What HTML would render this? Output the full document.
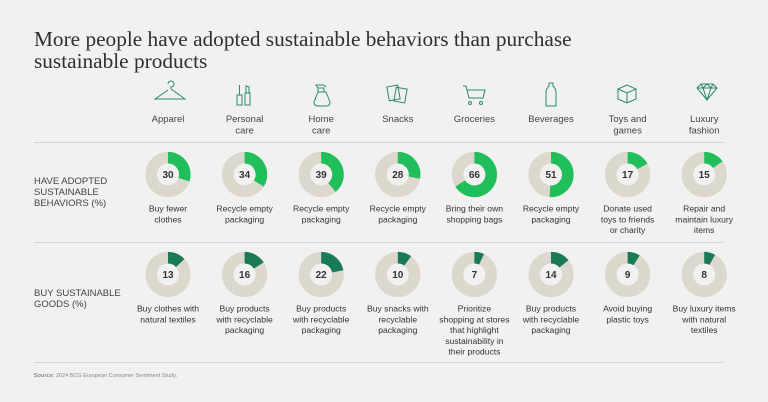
<!DOCTYPE html>
<html><head><meta charset="utf-8">
<style>
html,body{margin:0;padding:0;background:#f2f1f1;}
body{width:768px;height:402px;overflow:hidden;font-family:"Liberation Sans",sans-serif;}
svg{display:block}
</style></head>
<body>
<svg id="chart" width="768" height="402" viewBox="0 0 768 402" xmlns="http://www.w3.org/2000/svg">
<rect width="768" height="402" fill="#f2f1f1"/>
<text x="34" y="46" font-family="Liberation Serif, serif" font-size="21.3" fill="#2f2f2f">More people have adopted sustainable behaviors than purchase</text>
<text x="34" y="68" font-family="Liberation Serif, serif" font-size="21.3" fill="#2f2f2f">sustainable products</text>
<line x1="34" y1="142.5" x2="724" y2="142.5" stroke="#d6d4d4" stroke-width="1"/>
<line x1="34" y1="242.5" x2="724" y2="242.5" stroke="#d6d4d4" stroke-width="1"/>
<line x1="34" y1="362.5" x2="724" y2="362.5" stroke="#d6d4d4" stroke-width="1"/>
<g font-size="9.5" fill="#444">
<text x="34" y="184">HAVE ADOPTED</text><text x="34" y="195">SUSTAINABLE</text><text x="34" y="206">BEHAVIORS (%)</text></g>
<g font-size="9.5" fill="#444">
<text x="34" y="296">BUY SUSTAINABLE</text><text x="34" y="307">GOODS (%)</text></g>
<text x="34" y="377" font-size="5.5" fill="#888"><tspan font-weight="bold">Source:</tspan> 2024 BCG European Consumer Sentiment Study.</text>
<g id="icons" stroke="#2a8a66" stroke-width="1" fill="none">
<path d="M168 84 a3 3 0 1 1 3 3 v2 l14 10 h-30 l13 -9"/>
<g><rect x="237" y="95" width="5" height="10"/><rect x="245" y="93" width="5" height="12"/><line x1="239.5" y1="85" x2="239.5" y2="95"/><path d="M246 93 v-7 l3 1 v6"/></g>
<g><path d="M318 92 l-4 10 q0 4 4 4 h8 q4 0 4 -4 l-4 -10 z"/><path d="M318 92 v-4 h6 v4 M318 88 l-2 -3 h8 l2 2"/></g>
<g><rect x="388" y="86" width="11" height="14" transform="rotate(-10 393 93)"/><rect x="395" y="88" width="11" height="14" transform="rotate(10 400 95)"/></g>
<g><path d="M463 86 h3 l3 12 h14 l2 -8 h-18"/><circle cx="470" cy="103" r="1.5"/><circle cx="481" cy="103" r="1.5"/></g>
<g><path d="M549 83 h4 v3 q3 3 3 6 v14 h-10 v-14 q0 -3 3 -6 z"/></g>
<g><path d="M618 89 l9 -4 l9 4 v10 l-9 4 l-9 -4 z M618 89 l9 4 l9 -4 M627 93 v10"/></g>
<g><path d="M697 88 l4 -4 h12 l4 4 l-10 12 z M697 88 h20 M703 88 l4 12 l4 -12 M701 84 l2 4 l4 -4 l4 4 l2 -4"/></g>
</g>
<g id="marks"></g>
</svg>
<script>
const categories = [["Apparel"],["Personal","care"],["Home","care"],["Snacks"],["Groceries"],["Beverages"],["Toys and","games"],["Luxury","fashion"]];
const adoptedValues = [30,34,39,28,66,51,17,15];
const buyValues = [13,16,22,10,7,14,9,8];
const adoptedLabels = [["Buy fewer","clothes"],["Recycle empty","packaging"],["Recycle empty","packaging"],["Recycle empty","packaging"],["Bring their own","shopping bags"],["Recycle empty","packaging"],["Donate used","toys to friends","or charity"],["Repair and","maintain luxury","items"]];
const buyLabels = [["Buy clothes with","natural textiles"],["Buy products","with recyclable","packaging"],["Buy products","with recyclable","packaging"],["Buy snacks with","recyclable","packaging"],["Prioritize","shopping at stores","that highlight","sustainability in","their products"],["Buy products","with recyclable","packaging"],["Avoid buying","plastic toys"],["Buy luxury items","with natural","textiles"]];

const NS="http://www.w3.org/2000/svg";
const g=document.getElementById('marks');
const xPos=i=>168+i*76.6;
const R=16.8, SW=11.6;
function mk(tag,attrs,parent){const e=document.createElementNS(NS,tag);for(const k in attrs)e.setAttribute(k,attrs[k]);(parent||g).appendChild(e);return e;}
function arcPath(cx,cy,r,v){
  if(v>=100)v=99.99;
  const a=v/100*2*Math.PI;
  const x=cx+r*Math.sin(a), y=cy-r*Math.cos(a);
  return `M${cx} ${cy-r} A${r} ${r} 0 ${v>50?1:0} 1 ${x} ${y}`;
}
function lines(arr,x,y0,name){
  const t=mk('text',{x:x,'text-anchor':'middle','font-size':'8.6',fill:'#333'});
  
  
  arr.forEach((s,k)=>{const sp=mk('tspan',{x:x,y:y0+k*10.8},t);sp.textContent=s;});
}
categories.forEach((c,i)=>{
  const x=xPos(i);
  const t=mk('text',{x:x,'text-anchor':'middle','font-size':'9.5',fill:'#444'});
  
  
  c.forEach((s,k)=>{const sp=mk('tspan',{x:x,y:122+k*11.5},t);sp.textContent=s;});
});
function row(vals,labels,cy,color,rowName){
  vals.forEach((v,i)=>{
    const x=xPos(i);
    const bg=mk('circle',{cx:x,cy:cy,r:R,fill:'none',stroke:'#ddd8cd','stroke-width':SW});
    
    
    const p=mk('path',{d:arcPath(x,cy,R,v),fill:'none',stroke:color,'stroke-width':SW});
    
    
    const tv=mk('text',{x:x,y:cy+3.5,'text-anchor':'middle','font-size':'10','font-weight':'bold',fill:'#333'});
    
    
    tv.textContent=v;
    lines(labels[i],x,cy+37,rowName+'-behavior-label');
  });
}
row(adoptedValues,adoptedLabels,174.5,'#21bf5b','adopted');
row(buyValues,buyLabels,274.5,'#197a56','buy');
</script>
</body></html>
